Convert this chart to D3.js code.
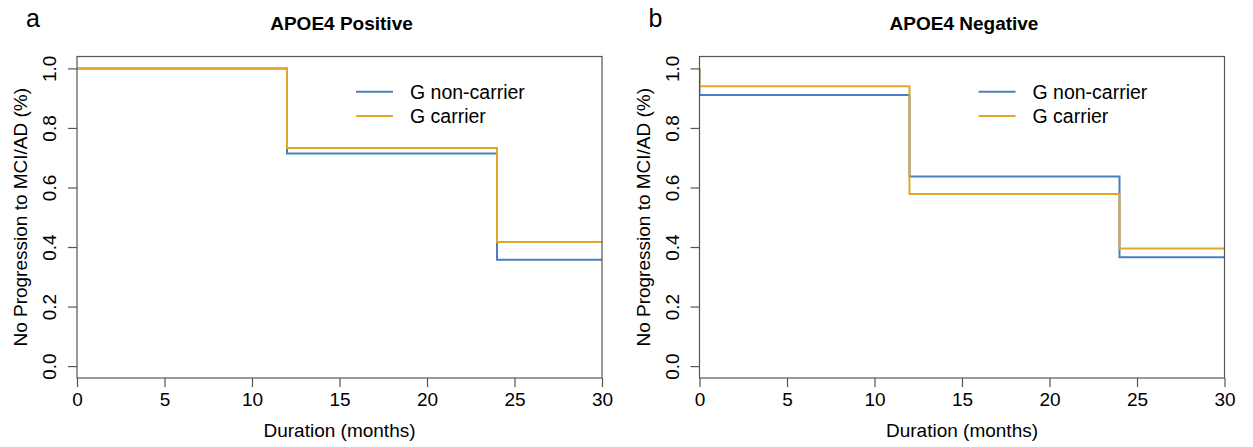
<!DOCTYPE html>
<html>
<head>
<meta charset="utf-8">
<script src="https://cdn.jsdelivr.net/npm/d3@7"></script>
<style>
	body { margin: 0; background: #fff; }
	svg text { font-family: "Liberation Sans", Arial, sans-serif; fill: #000; }
</style>
</head>
<body>
<svg id="chart" width="1253" height="447"></svg>
<script>
// Data
var seriesNames = ['G non-carrier', 'G carrier'];
var seriesColors = ['#4a7ec0', '#e3a62c'];
var xTicks = [0, 5, 10, 15, 20, 25, 30];
var yTicks = [0, 0.2, 0.4, 0.6, 0.8, 1.0];

// APOE4 positive
var timesPos = [0, 12, 24, 30];
var posNonCarrier = [1.0, 0.714, 0.357, 0.357];
var posCarrier = [1.0, 0.733, 0.417, 0.417];

// APOE4 negative (drop right at time 0)
var timesNeg = [0, 0, 12, 24, 30];
var negNonCarrier = [1.0, 0.911, 0.637, 0.366, 0.366];
var negCarrier = [1.0, 0.940, 0.578, 0.395, 0.395];

var panels = [
	{ tag: 'a', title: 'APOE4 Positive', left: 77, times: timesPos, series: [posNonCarrier, posCarrier] },
	{ tag: 'b', title: 'APOE4 Negative', left: 699.5, times: timesNeg, series: [negNonCarrier, negCarrier] }
];

var svg = d3.select('#chart');
var plotW = 525, plotTop = 56.5, plotH = 321.5;

panels.forEach(function(p, idx){
	var g = svg.append('g').attr('transform', 'translate(' + p.left + ',' + plotTop + ')');

	var x = d3.scaleLinear().domain([0, 30]).range([0, plotW]);
	// R style 4% padding on y
	var y = d3.scaleLinear().domain([-0.04, 1.04]).range([plotH, 0]);

	// clip to the plot region
	g.append('clipPath').attr('id', 'clip' + idx)
		.append('rect').attr('width', plotW).attr('height', plotH);

	var line = d3.line()
		.x(function(d){ return x(d[0]); })
		.y(function(d){ return y(d[1]); })
		.curve(d3.curveStepAfter);

	p.series.forEach(function(vals, i){
		var pts = p.times.map(function(t, j){ return [t, vals[j]]; });
		g.append('path')
			.attr('d', line(pts))
			.attr('fill', 'none')
			.attr('stroke', seriesColors[i])
			.attr('stroke-width', 2)
			.attr('clip-path', 'url(#clip' + idx + ')');
	});

	// box
	g.append('rect')
		.attr('width', plotW).attr('height', plotH)
		.attr('fill', 'none').attr('stroke', '#555').attr('stroke-width', 1.2);

	// x axis
	var xAxis = d3.axisBottom(x).tickValues(xTicks).tickSize(9).tickPadding(6).tickFormat(d3.format('d'));
	var gx = g.append('g').attr('transform', 'translate(0,' + plotH + ')').call(xAxis);
	gx.select('.domain').remove();
	gx.selectAll('line').attr('stroke', '#555').attr('stroke-width', 1.2);
	gx.selectAll('text').style('font-size', '19px').attr('fill', '#000');

	// y axis, labels rotated like R's default
	var yAxis = d3.axisLeft(y).tickValues(yTicks).tickSize(9).tickFormat(d3.format('.1f'));
	var gy = g.append('g').call(yAxis);
	gy.select('.domain').remove();
	gy.selectAll('line').attr('stroke', '#555').attr('stroke-width', 1.2);
	gy.selectAll('text')
		.style('font-size', '19px')
		.attr('x', null).attr('dy', null)
		.attr('text-anchor', 'middle')
		.attr('transform', 'translate(-21,0) rotate(-90)');

	// axis titles
	g.append('text')
		.attr('x', plotW / 2).attr('y', plotH + 59)
		.attr('text-anchor', 'middle')
		.style('font-size', '19px')
		.text('Duration (months)');

	g.append('text')
		.attr('transform', 'translate(-50,' + (plotH / 2) + ') rotate(-90)')
		.attr('text-anchor', 'middle')
		.style('font-size', '19px')
		.text('No Progression to MCI/AD (%)');

	// title and panel letter
	g.append('text')
		.attr('x', plotW / 2 + 2).attr('y', 30 - plotTop)
		.attr('text-anchor', 'middle')
		.style('font-size', '19px').style('font-weight', 'bold')
		.text(p.title);

	g.append('text')
		.attr('x', -51).attr('y', 27 - plotTop)
		.style('font-size', '25px')
		.text(p.tag);

	// legend
	var leg = g.append('g').attr('transform', 'translate(' + (x(0) + 279) + ',' + (91.7 - plotTop) + ')');
	seriesNames.forEach(function(name, i){
		leg.append('line')
			.attr('x1', 0).attr('x2', 37)
			.attr('y1', i * 24.4).attr('y2', i * 24.4)
			.attr('stroke', seriesColors[i]).attr('stroke-width', 2);
		leg.append('text')
			.attr('x', 54).attr('y', i * 24.4 + 7)
			.style('font-size', '19.5px')
			.text(name);
	});
});
</script>
</body>
</html>
